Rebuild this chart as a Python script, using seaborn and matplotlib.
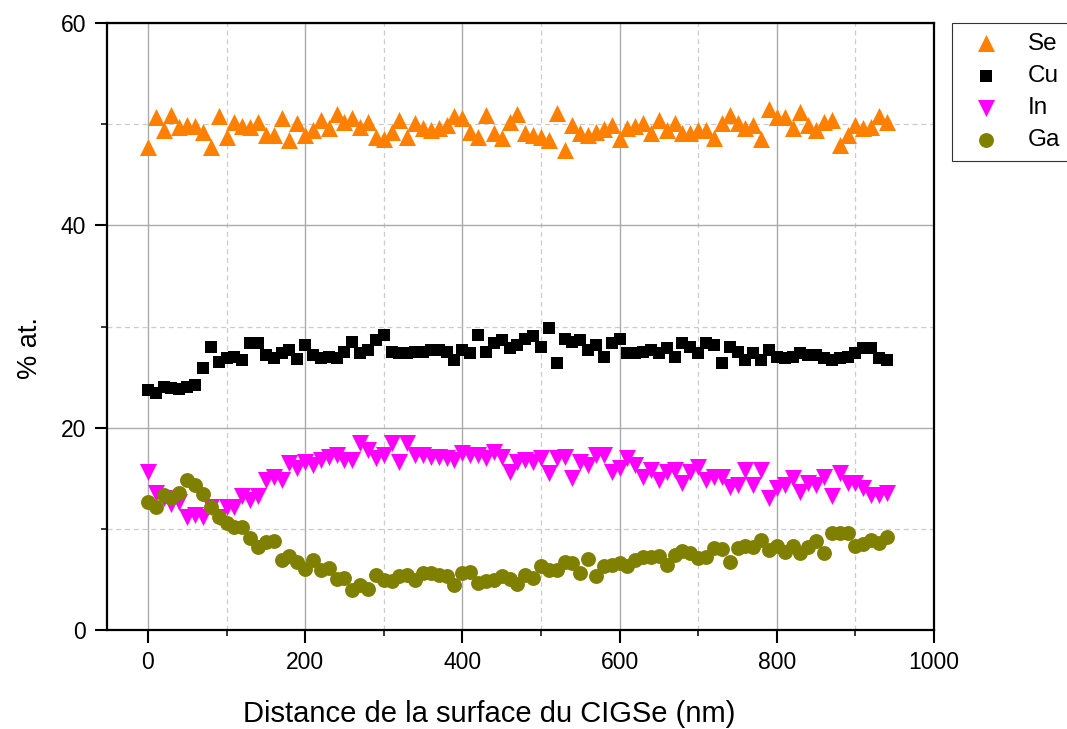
import numpy as np
import pandas as pd
import matplotlib
matplotlib.use("Agg")
import matplotlib.pyplot as plt
import seaborn as sns
from matplotlib.ticker import MultipleLocator

# depth positions (nm)
distance = list(range(0, 950, 10))

se = [47.7, 50.7, 49.4, 50.9, 49.7, 49.9, 49.8, 49.2, 47.7, 50.8,
      48.7, 50.2, 49.8, 49.7, 50.2, 48.9, 48.9, 50.6, 48.4, 50.1,
      48.9, 49.4, 50.4, 49.6, 51.0, 50.2, 50.6, 49.7, 50.2, 48.7,
      48.5, 49.2, 50.4, 48.7, 50.1, 49.6, 49.4, 49.6, 49.9, 50.8,
      50.6, 49.2, 48.7, 50.9, 49.1, 48.6, 50.2, 51.0, 49.1, 48.9,
      48.7, 48.4, 51.1, 47.4, 49.9, 49.1, 48.9, 49.2, 49.5, 49.9,
      48.5, 49.6, 49.8, 50.1, 49.1, 50.4, 49.4, 50.1, 49.1, 49.1,
      49.4, 49.4, 48.6, 50.1, 50.9, 50.1, 49.6, 49.9, 48.5, 51.5,
      50.7, 50.7, 49.6, 51.2, 49.9, 49.4, 50.2, 50.4, 47.9, 48.9,
      49.9, 49.6, 49.7, 50.8, 50.2]

cu = [23.7, 23.4, 24.0, 23.9, 23.8, 24.0, 24.2, 25.9, 28.0, 26.5,
      26.9, 27.0, 26.7, 28.4, 28.4, 27.2, 26.9, 27.4, 27.7, 26.8,
      28.2, 27.2, 26.9, 27.0, 26.9, 27.5, 28.5, 27.4, 27.7, 28.7,
      29.2, 27.5, 27.4, 27.4, 27.5, 27.5, 27.7, 27.7, 27.5, 26.7,
      27.7, 27.4, 29.2, 27.5, 28.4, 28.7, 27.9, 28.2, 28.8, 29.1,
      28.0, 29.9, 26.4, 28.8, 28.5, 28.7, 27.7, 28.2, 27.0, 28.4,
      28.8, 27.4, 27.4, 27.5, 27.7, 27.4, 27.9, 27.0, 28.4, 28.0,
      27.4, 28.4, 28.2, 26.4, 28.0, 27.5, 26.7, 27.4, 26.7, 27.7,
      27.0, 26.9, 27.0, 27.4, 27.2, 27.2, 26.9, 26.7, 26.9, 27.0,
      27.4, 27.9, 27.9, 26.9, 26.7]

in_ = [15.6, 13.5, 13.0, 12.5, 12.7, 11.2, 11.4, 11.2, 12.2, 11.2,
       12.2, 12.2, 13.2, 12.9, 13.2, 14.8, 15.1, 14.8, 16.5, 16.0,
       16.6, 16.3, 16.8, 17.1, 17.3, 16.8, 16.8, 18.5, 17.8, 17.0,
       17.3, 18.5, 16.6, 18.5, 17.3, 17.3, 17.1, 17.1, 17.0, 16.8,
       17.5, 17.3, 17.3, 17.0, 17.6, 17.1, 15.6, 16.6, 16.8, 16.6,
       17.0, 15.5, 17.0, 17.1, 15.0, 16.6, 16.3, 17.3, 17.3, 15.6,
       16.0, 17.0, 16.3, 15.1, 15.8, 14.8, 15.6, 15.8, 14.5, 15.6,
       16.1, 14.8, 15.1, 15.1, 14.1, 14.3, 15.8, 14.3, 15.8, 13.0,
       14.0, 14.3, 15.0, 13.6, 14.5, 14.3, 15.1, 13.2, 15.5, 14.5,
       14.5, 14.0, 13.3, 13.3, 13.5]

ga = [12.7, 12.2, 13.3, 13.0, 13.5, 14.8, 14.3, 13.4, 12.2, 11.2,
      10.6, 10.2, 10.2, 9.1, 8.2, 8.7, 8.8, 6.9, 7.3, 6.7,
      6.0, 6.9, 5.9, 6.1, 5.0, 5.1, 4.0, 4.4, 4.1, 5.4,
      4.9, 4.8, 5.3, 5.4, 4.9, 5.6, 5.6, 5.4, 5.3, 4.4,
      5.6, 5.7, 4.6, 4.8, 4.9, 5.3, 5.0, 4.5, 5.4, 5.1,
      6.3, 5.9, 5.9, 6.7, 6.6, 5.6, 7.0, 5.3, 6.3, 6.4,
      6.6, 6.3, 6.9, 7.2, 7.2, 7.3, 6.4, 7.4, 7.8, 7.6,
      7.1, 7.2, 8.1, 8.0, 6.7, 8.1, 8.3, 8.2, 8.9, 7.9,
      8.3, 7.7, 8.3, 7.6, 8.2, 8.8, 7.6, 9.6, 9.6, 9.6,
      8.3, 8.5, 8.9, 8.6, 9.2]

elements = ["Se", "Cu", "In", "Ga"]
values = {"Se": se, "Cu": cu, "In": in_, "Ga": ga}
colors = {"Se": "#ff8000", "Cu": "#000000", "In": "#ff00ff", "Ga": "#808000"}
markers = {"Se": "^", "Cu": "s", "In": "v", "Ga": "o"}
sizes = {"Se": 150, "Cu": 85, "In": 150, "Ga": 115}

df = pd.concat([pd.DataFrame({"distance": distance, "pct": values[el], "element": el})
                for el in elements], ignore_index=True)

sns.set_style("white")
plt.rcParams["font.family"] = ["Liberation Sans", "DejaVu Sans"]
plt.rcParams["text.color"] = "black"
plt.rcParams["axes.labelcolor"] = "black"

fig = plt.figure(figsize=(10.67, 7.29), dpi=100)
ax = fig.add_axes([0.1003, 0.1358, 0.7751, 0.8326])

for el in elements:
    sub = df[df["element"] == el]
    sns.scatterplot(data=sub, x="distance", y="pct", marker=markers[el],
                    color=colors[el], s=sizes[el], linewidth=0, label=el,
                    ax=ax, zorder=3)

ax.set_xlim(-52, 1000)
ax.set_ylim(0, 60)
ax.xaxis.set_major_locator(MultipleLocator(200))
ax.xaxis.set_minor_locator(MultipleLocator(100))
ax.yaxis.set_major_locator(MultipleLocator(20))
ax.yaxis.set_minor_locator(MultipleLocator(10))

ax.grid(which="major", color="#ababab", linestyle="-", linewidth=1.0)
ax.grid(which="minor", color="#cccccc", linestyle=(0, (4, 3)), linewidth=0.9)
ax.set_axisbelow(True)

for side in ["left", "bottom", "right", "top"]:
    ax.spines[side].set_visible(True)
    ax.spines[side].set_color("black")
    ax.spines[side].set_linewidth(1.6)

ax.tick_params(which="major", direction="out", length=9, width=1.5, pad=6,
               labelsize=16.5, colors="black", bottom=True, left=True)
ax.tick_params(which="minor", direction="out", length=4.5, width=1.3,
               bottom=True, left=True)

ax.set_xlabel("Distance de la surface du CIGSe (nm)", fontsize=21)
ax.set_ylabel("% at.", fontsize=19.5)
ax.xaxis.set_label_coords(0.4625, -0.1155)
ax.yaxis.set_label_coords(-0.0775, 0.465)

leg = ax.legend(loc="upper left", bbox_to_anchor=(1.022, 1.0), fontsize=17.5,
                frameon=True, fancybox=False, edgecolor="black",
                borderaxespad=0, handletextpad=0.7, labelspacing=0.42,
                borderpad=0.4)
leg.get_frame().set_linewidth(0.8)

fig.savefig("out.png", dpi=100)
